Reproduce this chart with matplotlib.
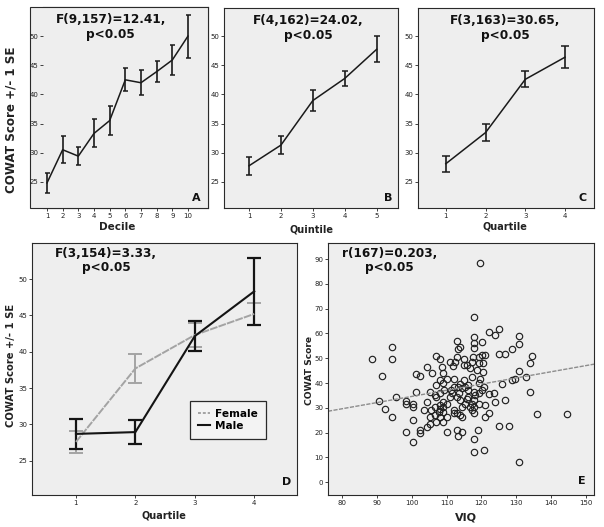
import matplotlib
matplotlib.use("Agg")
import matplotlib.pyplot as plt
from matplotlib.patches import Rectangle
import numpy as np

W, H = 604, 527

# ---------------- data ----------------
decile = [1, 2, 3, 4, 5, 6, 7, 8, 9, 10]
mean_A = [24.8, 30.5, 29.4, 33.3, 35.5, 42.5, 42.0, 43.9, 45.9, 50.0]
se_A = [1.7, 2.3, 1.55, 2.4, 2.55, 2.0, 2.15, 1.85, 2.6, 3.7]

quintile = [1, 2, 3, 4, 5]
mean_B = [27.75, 31.3, 38.95, 42.75, 47.75]
se_B = [1.55, 1.5, 1.75, 1.35, 2.25]

quartile = [1, 2, 3, 4]
mean_C = [28.1, 33.45, 42.6, 46.4]
se_C = [1.4, 1.45, 1.4, 1.9]

mean_female = [27.6, 37.7, 42.3, 45.2]
se_female = [1.55, 2.0, 1.6, 1.5]
mean_male = [28.7, 28.95, 42.15, 48.3]
se_male = [2.1, 1.65, 2.05, 4.6]

viq = [88.6, 91.5, 90.6, 94.5, 94.5, 95.6, 92.4, 94.5, 98.4, 98.4,
       100.3, 100.5, 98.4, 100.5, 100.3, 101.3, 101.3, 102.4, 104.4, 104.4,
       103.4, 102.4, 102.4, 104.4, 105.3, 105.3, 105.3, 105.8, 107.0, 108.2,
       107.0, 108.2, 108.2, 107.0, 108.2, 106.7, 108.2, 107.7, 106.7, 108.2,
       107.0, 109.1, 109.1, 109.1, 108.7, 109.0, 109.1, 109.3, 110.1, 110.1,
       110.1, 111.0, 111.8, 113.0, 113.2, 114.0, 112.1, 112.1, 111.6, 111.0,
       112.1, 112.1, 113.0, 113.0, 113.2, 114.4, 114.0, 114.4, 113.4, 114.0,
       114.4, 114.9, 113.6, 114.0, 115.1, 114.9, 115.8, 116.3, 115.3, 116.3,
       116.8, 117.3, 117.6, 117.8, 118.0, 118.0, 118.0, 117.3, 117.3, 117.8,
       117.3, 118.0, 116.8, 117.8, 117.8, 118.2, 118.0, 118.0, 119.0, 119.2,
       119.4, 119.6, 118.7, 119.2, 119.2, 120.1, 120.1, 120.4, 120.4, 121.1,
       120.1, 120.8, 121.1, 120.8, 122.1, 122.1, 122.1, 124.0, 125.1, 123.7,
       124.0, 125.1, 125.8, 125.1, 126.8, 126.8, 127.8, 128.8, 128.8, 129.7,
       130.7, 130.9, 130.9, 130.9, 132.8, 133.8, 133.8, 134.6, 135.9, 144.5,
       110.1, 109.1, 111.2, 115.8, 115.3, 116.3, 119.4, 121.1, 113.0, 112.3,
       106.7, 105.5, 113.0, 114.4, 119.5]
cowat = [49.5, 42.8, 32.7, 54.7, 49.5, 34.4, 29.4, 26.3, 32.7, 31.4,
         31.4, 30.4, 20.2, 25.2, 16.2, 36.4, 43.6, 42.8, 46.6, 32.4,
         29.3, 21.2, 19.8, 22.3, 23.6, 26.3, 36.4, 43.9, 50.9, 49.5,
         39.1, 41.2, 35.8, 34.4, 31.0, 30.4, 29.7, 28.3, 27.0, 26.3,
         24.3, 24.3, 30.4, 28.3, 46.6, 43.9, 40.1, 37.1, 20.2, 26.3,
         41.8, 48.6, 46.8, 57.1, 53.6, 54.7, 41.8, 38.5, 35.8, 34.4,
         29.0, 27.7, 27.7, 21.2, 18.5, 20.2, 27.0, 26.3, 38.5, 39.5,
         37.8, 41.4, 35.8, 33.1, 49.5, 47.2, 47.2, 37.1, 38.5, 39.1,
         45.9, 48.6, 50.6, 54.0, 56.0, 58.7, 66.8, 42.5, 31.7, 30.4,
         29.0, 27.7, 30.4, 33.1, 36.4, 35.1, 17.5, 12.1, 21.2, 35.8,
         39.8, 41.8, 45.2, 47.9, 50.6, 56.7, 51.3, 47.9, 44.5, 51.3,
         37.1, 38.5, 26.3, 13.1, 27.7, 35.5, 60.7, 59.4, 61.7, 35.8,
         32.4, 51.7, 39.5, 22.5, 51.7, 33.3, 22.5, 53.6, 41.2, 41.8,
         44.9, 59.0, 55.7, 8.1, 42.5, 47.9, 36.4, 50.9, 27.4, 27.4,
         31.7, 32.4, 37.1, 33.7, 31.7, 34.4, 31.7, 31.0, 50.6, 48.6,
         35.1, 29.3, 34.4, 30.4, 88.5]

fit_x = [76.0, 152.3]
fit_y = [28.6, 47.6]

# ---------------- style ----------------
BG = '#eeeeee'
EDGE = '#2a2a2a'
TXT = '#222222'
plt.rcParams['font.family'] = ['DejaVu Sans']

fig = plt.figure(figsize=(W / 100, H / 100), dpi=100)


def rect(x0, y0, x1, y1):
    return [x0 / W, 1 - y1 / H, (x1 - x0) / W, (y1 - y0) / H]


def style(ax, lw=0.8):
    ax.set_facecolor(BG)
    for s in ax.spines.values():
        s.set_color(EDGE)
        s.set_linewidth(lw)
    ax.tick_params(labelsize=5, length=2, width=0.6, colors=TXT, pad=1.5)


def ftext(x, y, s, **kw):
    fig.text(x / W, 1 - y / H, s, ha='center', va='center', color=TXT,
             fontweight='bold', **kw)


ann_kw = dict(fontsize=8.7, fontweight='bold', color='#111111',
              ha='center', va='top', linespacing=1.15)
letter_kw = dict(fontsize=8, fontweight='bold', color='#111111',
                 ha='right', va='bottom')

# ---------- Panel A ----------
# outer frame of panel A also encloses its y tick labels
frameA = Rectangle((30 / W, 1 - 208 / H), 178 / W, 201 / H,
                   transform=fig.transFigure, facecolor=BG,
                   edgecolor=EDGE, linewidth=0.8, zorder=-5)
fig.add_artist(frameA)
axA = fig.add_axes(rect(43, 7, 208, 208))
style(axA)
axA.spines['left'].set_visible(False)
axA.errorbar(decile, mean_A, yerr=se_A, color='#1a1a1a', lw=1.1,
             elinewidth=1.2, capsize=1.8, capthick=1.1)
axA.set_xlim(0.745, 11.28)
axA.set_ylim(20.5, 55)
axA.set_xticks(decile)
axA.set_yticks([25, 30, 35, 40, 45, 50])
axA.text(0.41, 0.97, 'F(9,157)=12.41,\np<0.05', transform=axA.transAxes, **ann_kw)
axA.text(0.955, 0.025, 'A', transform=axA.transAxes, **letter_kw)
ftext(11, 120, 'COWAT Score +/- 1 SE', fontsize=8.6, rotation=90)
ftext(117, 227, 'Decile', fontsize=7.5)

# ---------- Panel B ----------
axB = fig.add_axes(rect(224, 8, 398, 208))
style(axB)
axB.errorbar(quintile, mean_B, yerr=se_B, color='#1a1a1a', lw=1.1,
             elinewidth=1.2, capsize=2.5, capthick=1.1)
axB.set_xlim(0.216, 5.67)
axB.set_ylim(20.5, 54.85)
axB.set_xticks(quintile)
axB.set_yticks([25, 30, 35, 40, 45, 50])
axB.text(0.483, 0.97, 'F(4,162)=24.02,\np<0.05', transform=axB.transAxes, **ann_kw)
axB.text(0.97, 0.025, 'B', transform=axB.transAxes, **letter_kw)
ftext(312, 229, 'Quintile', fontsize=7)

# ---------- Panel C ----------
axC = fig.add_axes(rect(418, 8, 594, 208))
style(axC)
axC.errorbar(quartile, mean_C, yerr=se_C, color='#1a1a1a', lw=1.1,
             elinewidth=1.2, capsize=2.9, capthick=1.1)
axC.set_xlim(0.30, 4.73)
axC.set_ylim(20.5, 54.85)
axC.set_xticks(quartile)
axC.set_yticks([25, 30, 35, 40, 45, 50])
axC.text(0.494, 0.97, 'F(3,163)=30.65,\np<0.05', transform=axC.transAxes, **ann_kw)
axC.text(0.96, 0.025, 'C', transform=axC.transAxes, **letter_kw)
ftext(505, 227, 'Quartile', fontsize=7)

# ---------- Panel D ----------
axD = fig.add_axes(rect(32, 243, 297, 495))
style(axD)
axD.errorbar(quartile, mean_female, yerr=se_female, color='#a3a3a3', lw=1.4,
             elinewidth=1.4, capsize=4.7, capthick=1.4, ls=(0, (4, 0.6)),
             label='Female')
axD.errorbar(quartile, mean_male, yerr=se_male, color='#141414', lw=1.5,
             elinewidth=1.6, capsize=4.7, capthick=1.6, label='Male')
axD.set_xlim(0.26, 4.72)
axD.set_ylim(20.3, 54.95)
axD.set_xticks(quartile)
axD.set_yticks([25, 30, 35, 40, 45, 50])
axD.text(0.28, 0.985, 'F(3,154)=3.33,\np<0.05', transform=axD.transAxes, **ann_kw)
axD.text(0.98, 0.03, 'D', transform=axD.transAxes, **letter_kw)
h, l = axD.get_legend_handles_labels()
leg = axD.legend([hh[0] for hh in h], l, loc='center',
                 bbox_to_anchor=(0.74, 0.298), prop=dict(size=7.6, weight='bold'),
                 handlelength=1.1, handletextpad=0.5, borderpad=0.75,
                 labelspacing=0.2, borderaxespad=0, fancybox=False, framealpha=1)
leg.get_frame().set_edgecolor(EDGE)
leg.get_frame().set_facecolor('#f3f3f3')
leg.get_frame().set_linewidth(0.9)
leg.get_lines()[0].set_linestyle((0, (1.5, 1)))
ftext(11, 365, 'COWAT Score +/- 1 SE', fontsize=7.2, rotation=90)
ftext(164, 516, 'Quartile', fontsize=7)

# ---------- Panel E ----------
axE = fig.add_axes(rect(328, 243, 594, 495))
style(axE)
axE.plot(viq, cowat, 'o', mfc='none', mec='#222222', ms=4.6, mew=0.85)
axE.plot(fit_x, fit_y, color='#8c8c8c', lw=1.0, ls=(0, (3, 1)))
axE.set_xlim(76, 152.3)
axE.set_ylim(-5.2, 96.5)
axE.set_xticks([80, 90, 100, 110, 120, 130, 140, 150])
axE.set_yticks([0, 10, 20, 30, 40, 50, 60, 70, 80, 90])
axE.text(0.23, 0.985, 'r(167)=0.203,\np<0.05', transform=axE.transAxes, **ann_kw)
axE.text(0.97, 0.035, 'E', transform=axE.transAxes, **letter_kw)
ftext(309, 370, 'COWAT Score', fontsize=6.6, rotation=90)
ftext(466, 517, 'VIQ', fontsize=8)

fig.savefig('out.png', dpi=100, facecolor='white')
